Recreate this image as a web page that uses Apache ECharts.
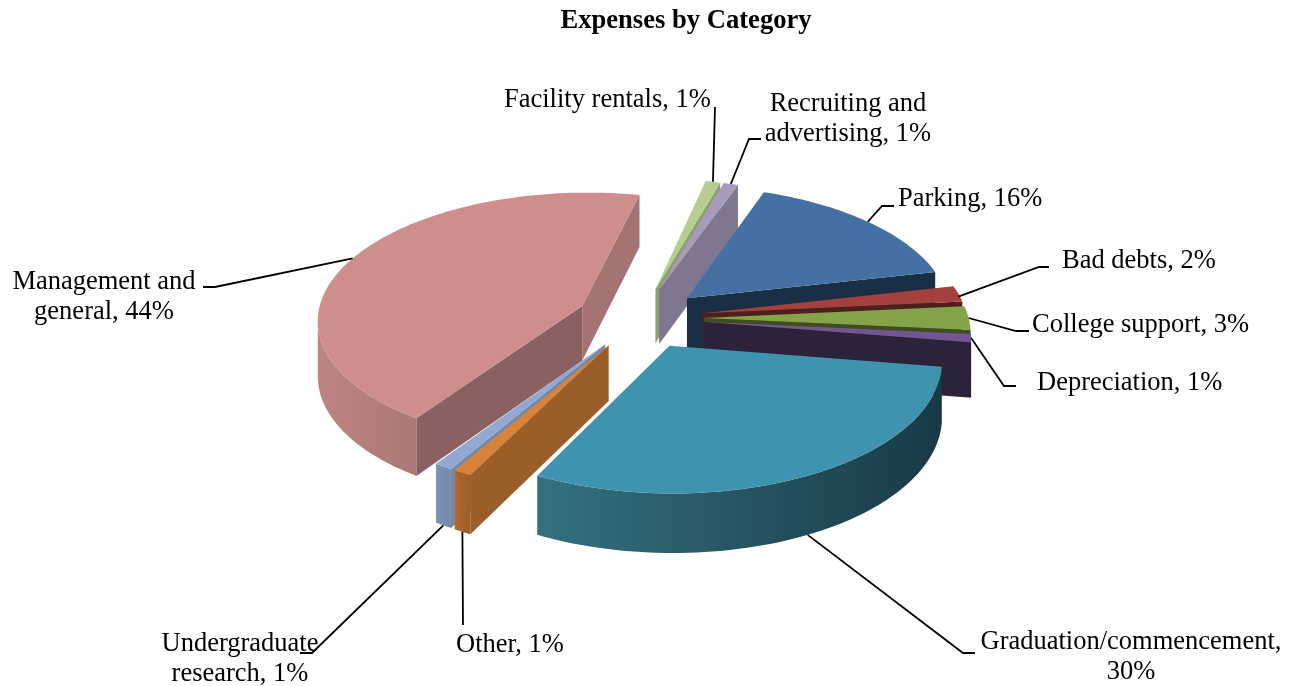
<!DOCTYPE html>
<html><head><meta charset="utf-8">
<style>html,body{margin:0;padding:0;background:#fff}#c{width:1297px;height:686px}</style>
<script src="https://cdn.jsdelivr.net/npm/echarts@6/dist/echarts.min.js"></script>
</head><body><div id="c"></div>
<script>
const categories = ['Parking','Bad debts','College support','Depreciation','Graduation/commencement','Other','Undergraduate research','Management and general','Facility rentals','Recruiting and advertising'];
const values = [16,2,3,1,30,1,1,44,1,1];
const topColors = ['#4570a4','#a4413f','#84a44a','#735592','#3f93ae','#d9823a','#92a8d0','#ce8e8d','#b8cd92','#a99bbd'];
const startFaceColors = ['#1a2e45','#4f1f1e','#3e4e22','#2c233a','#1f4a58','#9b5e28','#7489a9','#8a6060','#8ba26e','#7f7690'];
const endFaceColors = ['#1a2e45','#4f1f1e','#3e4e22','#2c233a','#1f4a58','#9b5e28','#7489a9','#a47473','#8ba26e','#7f7690'];
const wallLeft = ['#2a4a70','#7a3030','#5e7534','#4f3b66','#34717f','#b06a2e','#7e92b4','#bd8583','#98ad76','#8a8099'];
const wallRight = ['#1a2e45','#4f1f1e','#3e4e22','#2c233a','#183a46','#9b5e28','#7489a9','#ab7876','#8ba26e','#7f7690'];

// label layout, in the same order as the categories
const labelText = [['Parking, 16%'],['Bad debts, 2%'],['College support, 3%'],['Depreciation, 1%'],['Graduation/commencement,','30%'],['Other, 1%'],['Undergraduate','research, 1%'],['Management and','general, 44%'],['Facility rentals, 1%'],['Recruiting and','advertising, 1%']];
const labelX = [898,1062,1032,1037,1131,456,240,104,504,848];
const labelY = [199,261,325,383,642,645,644,282,100,104];
const labelAlign = ['left','left','left','left','center','left','center','center','left','center'];
const leaderStubs = [[[894,206],[882,206]],[[1049,267],[1039,267]],[[1029,331],[1016,331]],[[1016,386],[1004,386]],[[975,653],[963,653]],[[463,625]],[[300,653],[312,653]],[[203,287],[215,287]],[[715,107]],[[761,139],[749,139]]];
const leaderDepth = [0,0.05,0,0,1,1,1,0,0,0];

const FONT = '"Liberation Serif","Times New Roman",serif';
const cx=640, cy=318, Rx=265, Ry=127, persp=0.1, explode=0.24, depth=55, startAngle=19.8;
const rad=d=>d*Math.PI/180;
const total=values.reduce((a,b)=>a+b,0);
let acc=startAngle;
const slices=values.map((v,i)=>{const a0=acc;acc+=v/total*360;const a1=acc;const mid=(a0+a1)/2;
  return {i,a0,a1,mid,ax:explode*Math.sin(rad(mid)),ay:-explode*Math.cos(rad(mid))};});
function project(X,Y,z){const s=1/(1-persp*Y);return [cx+Rx*X*s,cy+Ry*Y*s+depth*(1+0.6*(s-1))*z];}
function rim(sl,a,z){return project(sl.ax+Math.sin(rad(a)),sl.ay-Math.cos(rad(a)),z);}
function apex(sl,z){return project(sl.ax,sl.ay,z);}
function faces(sl,nx,ny,px,py){return nx*(0-px)+ny*(1/persp-py)>0;}
function poly(points,fill){return {type:'polygon',shape:{points},style:{fill,stroke:null}};}

function renderSlice(params,api){
  const sl=slices[api.value(0)], i=sl.i, children=[];
  // radial faces
  const c0=Math.cos(rad(sl.a0)),s0=Math.sin(rad(sl.a0)),c1=Math.cos(rad(sl.a1)),s1=Math.sin(rad(sl.a1));
  if(faces(sl,-c0,-s0,sl.ax,sl.ay)) children.push(poly([apex(sl,0),rim(sl,sl.a0,0),rim(sl,sl.a0,1),apex(sl,1)],startFaceColors[i]));
  if(faces(sl,c1,s1,sl.ax,sl.ay)) children.push(poly([apex(sl,0),rim(sl,sl.a1,0),rim(sl,sl.a1,1),apex(sl,1)],endFaceColors[i]));
  // outer wall
  const top=[],bot=[];const n=Math.max(2,Math.ceil((sl.a1-sl.a0)/1.5));
  for(let k=0;k<=n;k++){const a=sl.a0+(sl.a1-sl.a0)*k/n;const dx=Math.sin(rad(a)),dy=-Math.cos(rad(a));
    if(faces(sl,dx,dy,sl.ax+dx,sl.ay+dy)){top.push(rim(sl,a,0));bot.unshift(rim(sl,a,1));}}
  if(top.length>1) children.push(poly(top.concat(bot),{type:'linear',x:0,y:0,x2:1,y2:0,colorStops:[{offset:0,color:wallLeft[i]},{offset:1,color:wallRight[i]}]}));
  // top surface
  const pts=[apex(sl,0)];
  for(let k=0;k<=n;k++) pts.push(rim(sl,sl.a0+(sl.a1-sl.a0)*k/n,0));
  children.push(poly(pts,topColors[i]));
  return {type:'group',children};
}
function renderLabel(params,api){
  const sl=slices[api.value(0)], i=sl.i, children=[];
  const tip=rim(sl,sl.mid,leaderDepth[i]);
  children.push({type:'polyline',shape:{points:leaderStubs[i].concat([tip])},style:{fill:null,stroke:'#000',lineWidth:1.8}});
  labelText[i].forEach((t,j)=>children.push({type:'text',style:{text:t,x:labelX[i],y:labelY[i]+j*30,font:'26.5px '+FONT,fill:'#000',textAlign:labelAlign[i],textVerticalAlign:'middle'}}));
  return {type:'group',children};
}
const drawOrder=slices.slice().sort((a,b)=>a.ay-b.ay).map(s=>[s.i]);
const chart=echarts.init(document.getElementById('c'),null,{renderer:'canvas'});
chart.setOption({
  animation:false,
  backgroundColor:'#fff',
  title:{text:'Expenses by Category',left:681,top:3,textAlign:'center',textStyle:{fontFamily:FONT,fontWeight:'bold',fontSize:26.6,color:'#000'}},
  series:[
    {type:'custom',coordinateSystem:'none',renderItem:renderSlice,data:drawOrder,silent:true,z:2},
    {type:'custom',coordinateSystem:'none',renderItem:renderLabel,data:categories.map((c,i)=>[i]),silent:true,z:3}
  ]
});
</script></body></html>
